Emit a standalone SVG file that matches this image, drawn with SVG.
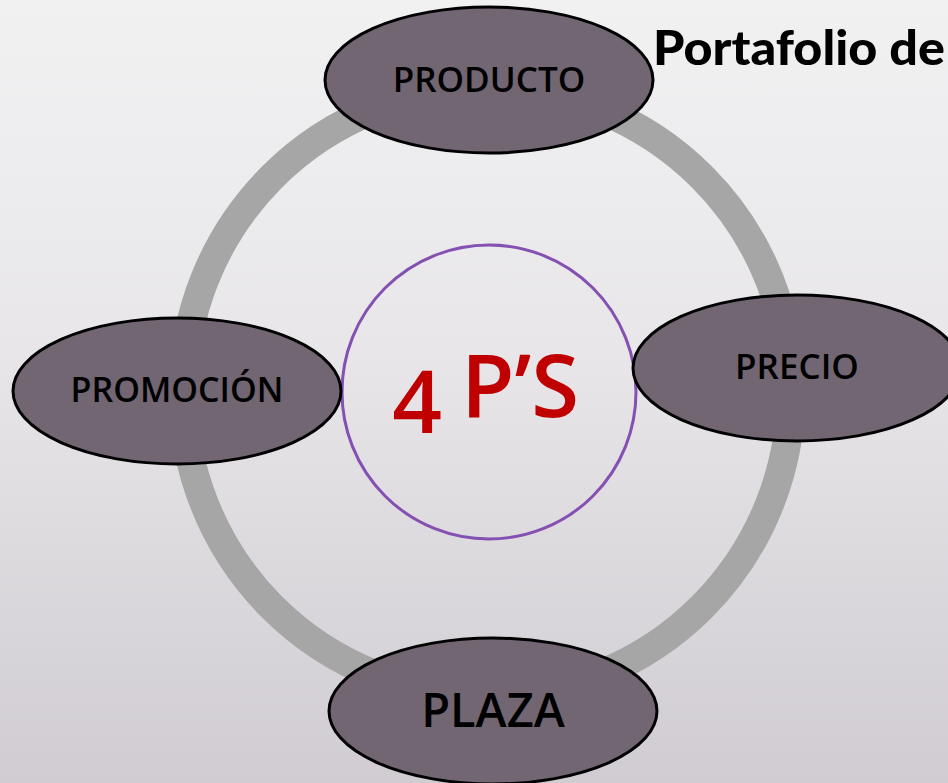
<svg xmlns="http://www.w3.org/2000/svg" width="948" height="783" viewBox="0 0 948 783">
  <defs>
    <linearGradient id="bg" x1="0" y1="0" x2="0" y2="1">
      <stop offset="0" stop-color="#f1f1f2"/>
      <stop offset="0.45" stop-color="#e8e6e9"/>
      <stop offset="1" stop-color="#d0ccd2"/>
    </linearGradient>
    <style>
      .node ellipse { fill: #716672; stroke: #000; stroke-width: 3; }
      .lbl { font-family: "Open Sans", "Noto Sans", "DejaVu Sans", sans-serif; font-weight: 600; fill: #000; text-anchor: middle; }
      .ring { fill: none; stroke: #a6a6a6; stroke-width: 29; }
      .big { font-family: "Open Sans", "Noto Sans", sans-serif; font-weight: 600; font-size: 87px; fill: #c00000; text-anchor: middle; }
    </style>
  </defs>
  <rect width="948" height="783" fill="url(#bg)"/>

  <g id="connectors">
    <circle class="ring" cx="487" cy="392" r="304"/>
  </g>

  <g id="title">
    <text x="653" y="65" font-family="Lato, 'Noto Sans', sans-serif" font-weight="900" font-size="48" fill="#000" textLength="292" lengthAdjust="spacingAndGlyphs">Portafolio de</text>
  </g>

  <g id="center">
    <circle cx="489" cy="392" r="147" fill="none" stroke="#8450b2" stroke-width="3"/>
    <text class="big" x="417" y="433">4</text>
    <text class="big" x="520" y="417">P’S</text>
  </g>

  <g id="producto" class="node">
    <ellipse cx="489" cy="80" rx="164" ry="73"/>
    <text class="lbl" x="489" y="92" font-size="35">PRODUCTO</text>
  </g>

  <g id="promocion" class="node">
    <ellipse cx="177" cy="391" rx="164" ry="73"/>
    <text class="lbl" x="177" y="402" font-size="34">PROMOCIÓN</text>
  </g>

  <g id="precio" class="node">
    <ellipse cx="797" cy="368" rx="164" ry="73"/>
    <text class="lbl" x="797" y="379" font-size="35">PRECIO</text>
  </g>

  <g id="plaza" class="node">
    <ellipse cx="493" cy="711" rx="164" ry="73"/>
    <text class="lbl" x="493" y="727" font-size="47">PLAZA</text>
  </g>
</svg>
